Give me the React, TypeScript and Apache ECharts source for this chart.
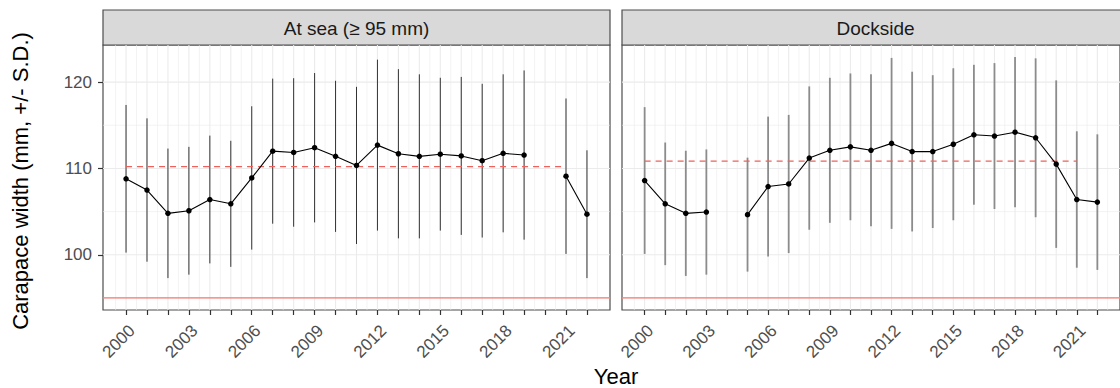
import React, { useEffect, useRef } from "react";
import * as echarts from "echarts";

// Survey years shared by both panels
const years = [
  2000, 2001, 2002, 2003, 2004, 2005, 2006, 2007, 2008, 2009, 2010, 2011,
  2012, 2013, 2014, 2015, 2016, 2017, 2018, 2019, 2020, 2021, 2022,
];
const labelYears = [2000, 2003, 2006, 2009, 2012, 2015, 2018, 2021];
const yTickValues = [100, 110, 120];

// At sea (>= 95 mm): annual mean carapace width and standard deviation
const seaMean = [
  108.8, 107.5, 104.8, 105.1, 106.4, 105.9, 108.9, 112.0, 111.85, 112.4, 111.4,
  110.35, 112.7, 111.7, 111.4, 111.65, 111.45, 110.9, 111.75, 111.55, null,
  109.1, 104.7,
];
const seaSD = [
  8.55, 8.3, 7.5, 7.4, 7.4, 7.3, 8.3, 8.4, 8.6, 8.65, 8.75, 9.1, 9.9, 9.8, 9.5,
  8.85, 9.15, 8.9, 9.15, 9.8, null, 9.0, 7.4,
];

// Dockside: annual mean carapace width and standard deviation
const dockMean = [
  108.6, 105.9, 104.8, 104.95, null, 104.65, 107.9, 108.2, 111.2, 112.1, 112.5,
  112.1, 112.9, 111.95, 111.95, 112.8, 113.9, 113.75, 114.2, 113.55, 110.5,
  106.4, 106.1,
];
const dockSD = [
  8.5, 7.1, 7.25, 7.25, null, 6.6, 8.1, 8.0, 8.3, 8.4, 8.5, 8.8, 9.9, 9.25,
  8.85, 8.8, 8.1, 8.45, 8.7, 9.2, 9.7, 7.9, 7.85,
];

// Long-term reference means (dashed) and minimum legal size (solid)
const seaRefMean = 110.2;
const dockRefMean = 110.85;
const refStartYear = 2000;
const refEndYear = 2021;
const legalSize = 95;

const panelTitles = ["At sea (\u2265 95 mm)", "Dockside"];

const FONT = "'Liberation Sans', Arial, Helvetica, sans-serif";

export default function App() {
  const ref = useRef<HTMLDivElement>(null);

  useEffect(() => {
    if (!ref.current) return;
    const chart = echarts.init(ref.current, undefined, { renderer: "svg" });

    // ggplot-style 5% expansion of the data ranges
    const xLo = years[0];
    const xHi = years[years.length - 1];
    const xMin = xLo - 0.05 * (xHi - xLo);
    const xMax = xHi + 0.05 * (xHi - xLo);

    const allLo: number[] = [legalSize];
    const allHi: number[] = [];
    [
      [seaMean, seaSD],
      [dockMean, dockSD],
    ].forEach(([m, s]) => {
      m.forEach((v, i) => {
        if (v != null && s[i] != null) {
          allLo.push((v as number) - (s[i] as number));
          allHi.push((v as number) + (s[i] as number));
        }
      });
    });
    const dLo = Math.min(...allLo);
    const dHi = Math.max(...allHi);
    const yMin = dLo - 0.05 * (dHi - dLo);
    const yMax = dHi + 0.05 * (dHi - dLo);

    const xMinor: number[] = [];
    for (let i = 0; i <= years.length; i++) xMinor.push(years[0] - 0.5 + i);
    const yMajor = [100, 110, 120];
    const yMinor = [95, 105, 115];

    const panelLeft = [103, 622];
    const panelTop = 45;
    const panelW = 507;
    const panelH = 265;
    const stripTop = 10;
    const stripH = 35;

    const panels = [
      { mean: seaMean, sd: seaSD, ref: seaRefMean, barColor: "#333333", barWidth: 1 },
      { mean: dockMean, sd: dockSD, ref: dockRefMean, barColor: "#8c8c8c", barWidth: 1.8 },
    ];

    const grids: any[] = [];
    const xAxes: any[] = [];
    const yAxes: any[] = [];
    const series: any[] = [];
    const graphics: any[] = [];

    panels.forEach((p, gi) => {
      grids.push({
        left: panelLeft[gi],
        top: panelTop,
        width: panelW,
        height: panelH,
        show: true,
        backgroundColor: "#ffffff",
        borderColor: "#4d4d4d",
        borderWidth: 1.2,
      });
      xAxes.push({
        gridIndex: gi,
        type: "value",
        min: xMin,
        max: xMax,
        axisLine: { show: false },
        splitLine: { show: false },
        axisTick: {
          show: true,
          customValues: years,
          length: 5,
          lineStyle: { color: "#333333", width: 1.2 },
        },
        axisLabel: {
          customValues: labelYears,
          rotate: 45,
          align: "right",
          verticalAlign: "top",
          margin: 12,
          fontSize: 17,
          fontFamily: FONT,
          color: "#4D4D4D",
          formatter: (v: number) => String(Math.round(v)),
        },
      });
      yAxes.push({
        gridIndex: gi,
        type: "value",
        min: yMin,
        max: yMax,
        axisLine: { show: false },
        splitLine: { show: false },
        axisTick: {
          show: gi === 0,
          customValues: yTickValues,
          length: 5,
          lineStyle: { color: "#333333", width: 1.2 },
        },
        axisLabel: {
          show: gi === 0,
          customValues: yTickValues,
          margin: 11,
          fontSize: 17,
          fontFamily: FONT,
          color: "#4D4D4D",
        },
      });

      // vertical grid lines (major at each year, minor at half years)
      const vData: any[] = [];
      years.forEach((y) => vData.push([y, yMin, 1.1]));
      xMinor.forEach((y) => vData.push([y, yMin, 0.6]));
      series.push({
        type: "custom",
        xAxisIndex: gi,
        yAxisIndex: gi,
        silent: true,
        z: 1,
        data: vData,
        renderItem: (params: any, api: any) => {
          const cs = params.coordSys;
          const px = api.coord([api.value(0), api.value(1)])[0];
          return {
            type: "line",
            shape: { x1: px, y1: cs.y, x2: px, y2: cs.y + cs.height },
            style: { stroke: "#EBEBEB", lineWidth: api.value(2) },
          };
        },
      });
      // horizontal grid lines
      const hData: any[] = [];
      yMajor.forEach((v) => hData.push([xMin, v, 1.1]));
      yMinor.forEach((v) => hData.push([xMin, v, 0.6]));
      series.push({
        type: "custom",
        xAxisIndex: gi,
        yAxisIndex: gi,
        silent: true,
        z: 1,
        data: hData,
        renderItem: (params: any, api: any) => {
          const cs = params.coordSys;
          const py = api.coord([api.value(0), api.value(1)])[1];
          return {
            type: "line",
            shape: { x1: cs.x, y1: py, x2: cs.x + cs.width, y2: py },
            style: { stroke: "#EBEBEB", lineWidth: api.value(2) },
          };
        },
      });

      // minimum legal size
      series.push({
        type: "line",
        xAxisIndex: gi,
        yAxisIndex: gi,
        silent: true,
        z: 2,
        symbol: "none",
        data: [
          [xMin, legalSize],
          [xMax, legalSize],
        ],
        lineStyle: { color: "#F8766D", width: 1.2 },
      });

      // error bars: mean +/- SD
      const bars: any[] = [];
      p.mean.forEach((m, i) => {
        if (m != null && p.sd[i] != null) {
          bars.push([years[i], (m as number) - (p.sd[i] as number), (m as number) + (p.sd[i] as number)]);
        }
      });
      series.push({
        type: "custom",
        xAxisIndex: gi,
        yAxisIndex: gi,
        silent: true,
        z: 3,
        encode: { x: 0, y: [1, 2] },
        data: bars,
        renderItem: (params: any, api: any) => {
          const a = api.coord([api.value(0), api.value(1)]);
          const b = api.coord([api.value(0), api.value(2)]);
          return {
            type: "line",
            shape: { x1: a[0], y1: a[1], x2: b[0], y2: b[1] },
            style: { stroke: p.barColor, lineWidth: p.barWidth },
          };
        },
      });

      // long-term mean
      series.push({
        type: "line",
        xAxisIndex: gi,
        yAxisIndex: gi,
        silent: true,
        z: 4,
        symbol: "none",
        data: [
          [refStartYear, p.ref],
          [refEndYear, p.ref],
        ],
        lineStyle: { color: "#F0605A", width: 1.3, type: [6, 5] },
      });

      // annual means
      series.push({
        type: "line",
        xAxisIndex: gi,
        yAxisIndex: gi,
        silent: true,
        z: 5,
        connectNulls: false,
        symbol: "circle",
        symbolSize: 5.5,
        itemStyle: { color: "#000000" },
        lineStyle: { color: "#000000", width: 1.1 },
        data: years.map((y, i) => [y, p.mean[i] == null ? "-" : p.mean[i]]),
      });

      // facet strip
      graphics.push({
        type: "rect",
        shape: { x: panelLeft[gi], y: stripTop, width: panelW, height: stripH },
        style: { fill: "#D9D9D9", stroke: "#4d4d4d", lineWidth: 1.2 },
        silent: true,
      });
      graphics.push({
        type: "text",
        x: panelLeft[gi] + panelW / 2,
        y: stripTop + stripH / 2 + 0.5,
        style: {
          text: panelTitles[gi],
          fontSize: 19,
          fontFamily: FONT,
          fill: "#1A1A1A",
          align: "center",
          verticalAlign: "middle",
        },
        silent: true,
      });
    });

    graphics.push({
      type: "text",
      x: 20,
      y: 181,
      rotation: Math.PI / 2,
      style: {
        text: "Carapace width (mm, +/- S.D.)",
        fontSize: 22,
        fontFamily: FONT,
        fill: "#000000",
        align: "center",
        verticalAlign: "middle",
      },
      silent: true,
    });
    graphics.push({
      type: "text",
      x: 616,
      y: 376,
      style: {
        text: "Year",
        fontSize: 22,
        fontFamily: FONT,
        fill: "#000000",
        align: "center",
        verticalAlign: "middle",
      },
      silent: true,
    });

    chart.setOption({
      animation: false,
      backgroundColor: "#ffffff",
      grid: grids,
      xAxis: xAxes,
      yAxis: yAxes,
      series,
      graphic: graphics,
    });

    return () => chart.dispose();
  }, []);

  return (
    <div
      ref={ref}
      style={{ position: "absolute", left: 0, top: 0, width: 1120, height: 388 }}
    />
  );
}
